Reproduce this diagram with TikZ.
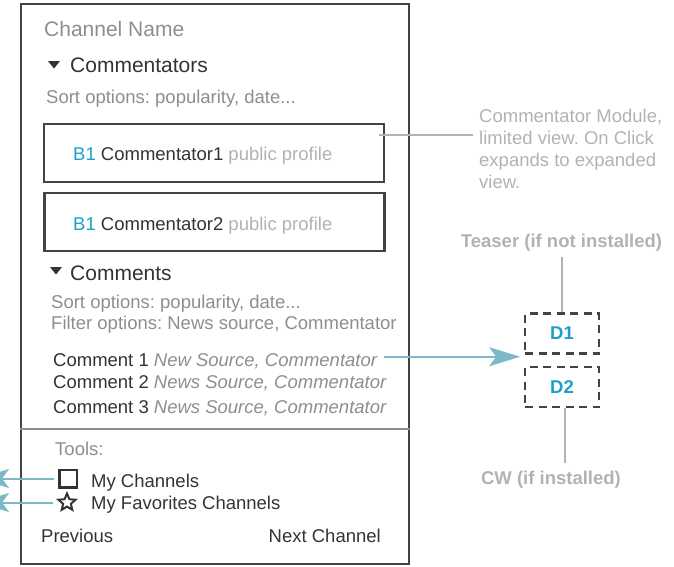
\documentclass[tikz,border=0pt]{standalone}
\usepackage{fontspec}
\setmainfont{Liberation Sans}
\usetikzlibrary{shapes.geometric, arrows.meta, positioning, calc}
\definecolor{wfdark}{HTML}{444444}
\definecolor{wftext}{HTML}{333333}
\definecolor{wfgray}{HTML}{8E8E8E}
\definecolor{wflight}{HTML}{B2B2B2}
\definecolor{wfcyan}{HTML}{1BA1C9}
\definecolor{wfblue}{HTML}{7BB9C9}
\frenchspacing

\begin{document}
\begin{tikzpicture}[x=1pt, y=-1pt,
    txt/.style={anchor=base west, inner sep=0pt, font=\fontsize{18.5}{22}\selectfont, text=wftext},
    head/.style={txt, font=\fontsize{21}{25}\selectfont},
    hint/.style={txt, text=wfgray},
    panel/.style={draw=wfdark, line width=2pt, minimum width=388pt, minimum height=560pt, inner sep=0pt},
    cbox/.style={draw=wfdark, line width=2.5pt, minimum width=340pt, minimum height=58pt, inner sep=0pt},
    dbox/.style={draw=wfdark, line width=2.6pt, dash pattern=on 8pt off 5.5pt, minimum width=74pt, minimum height=40pt, inner sep=0pt, font=\fontsize{18.5}{22}\selectfont\bfseries, text=wfcyan},
    note/.style={align=left, inner sep=0pt, font=\fontsize{18.5}{22}\selectfont, text=wflight},
    tag/.style={anchor=base, inner sep=0pt, font=\fontsize{18.5}{22}\selectfont\bfseries, text=wflight},
    chk/.style={draw=wftext, line width=2.5pt, minimum size=17.5pt, inner sep=0pt},
    favstar/.style={star, star points=5, star point ratio=2.2, draw=wftext, line width=2pt, minimum size=18pt, inner sep=0pt},
    noteline/.style={draw=wflight, line width=2pt},
    flow/.style={draw=wfblue, line width=2pt, -{Stealth[length=31pt, width=19pt, inset=7pt]}}
]
\clip (0,0) rectangle (674,566);

% Channel panel
\node[panel] (frame) at (215,284) {};
\coordinate (divy) at (0,429);
\draw[wfgray, line width=1.5pt] (frame.west |- divy) -- (frame.east |- divy);

\node[head, text=wfgray] (chname) at (44,36) {Channel Name};

% Commentators
\fill[wftext] (48,61) -- (60,61) -- (54,68.5) -- cycle;
\node[head] (cmhead) at (70,72) {Commentators};
\node[hint] (sort1) at (46,103) {Sort options: popularity, date...};

\node[cbox] (cm1) at (214,153) {};
\node[txt] (cm1txt) at (73,160) {\textcolor{wfcyan}{B1} Commentator1 \textcolor{wflight}{public profile}};
\node[cbox] (cm2) at (214.5,222) {};
\node[txt] (cm2txt) at (73,230) {\textcolor{wfcyan}{B1} Commentator2 \textcolor{wflight}{public profile}};

% Comments
\fill[wftext] (50,267) -- (62,267) -- (56,274.5) -- cycle;
\node[head] (cohead) at (70,280) {Comments};
\node[hint] (sort2) at (51,308) {Sort options: popularity, date...};
\node[hint] (filt) at (51,329) {Filter options: News source, Commentator};

\node[txt] (c1) at (53,366) {Comment 1 \textcolor{wfgray}{\itshape New Source, Commentator}};
\node[txt] (c2) at (53,388) {Comment 2 \textcolor{wfgray}{\itshape News Source, Commentator}};
\node[txt] (c3) at (53,413) {Comment 3 \textcolor{wfgray}{\itshape News Source, Commentator}};

% Tools
\node[hint] (tools) at (55,455) {Tools:};
\node[chk] (box) at (68,478.5) {};
\node[txt] (mych) at (91,487) {My Channels};
\node[favstar] (fav) at (67,502.5) {};
\node[txt] (myfav) at (91,509) {My Favorites Channels};

\node[txt] (prev) at (41,542) {Previous};
\node[txt, anchor=base east] (next) at (381,542) {Next Channel};

% Notes on the right
\node[note, anchor=north west] (modnote) at (479,108.5) {Commentator Module,\\limited view. On Click\\expands to expanded\\view.};
\coordinate (modin) at (473,135);
\draw[noteline] ([xshift=-6pt]cm1.east |- modin) -- (modin);

\node[tag] (teaser) at (561.5,247) {Teaser (if not installed)};
\node[dbox] (d1) at (562,333.5) {D1};
\node[dbox] (d2) at (562,387) {D2};
\node[tag] (cw) at (551,484) {CW (if installed)};

\draw[noteline, shorten >=6pt] (d1.north) -- (d1.north |- teaser.south);
\draw[noteline, shorten >=7.5pt] ([xshift=3pt]d2.south) -- ([xshift=3pt]d2.south |- cw.north);

% Arrows
\draw[flow, shorten >=10.5pt] ([shift={(7pt,4pt)}]c1.east) -- ([shift={(7pt,4pt)}]c1.east -| d1.west);
\coordinate (offleft) at (-22,490);
\draw[flow] ([xshift=-4.5pt]box.west) -- (box.west -| offleft);
\draw[flow] ([xshift=-5pt]box.west |- fav) -- (fav -| offleft);

\end{tikzpicture}
\end{document}
